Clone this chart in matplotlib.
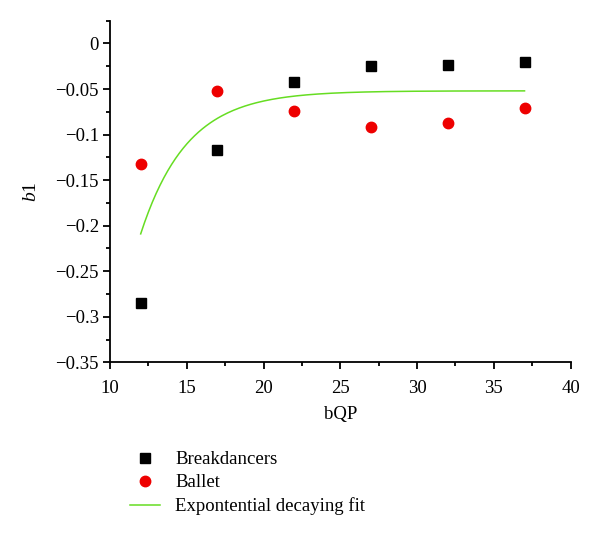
import numpy as np
import matplotlib.pyplot as plt
from matplotlib.ticker import MultipleLocator

plt.rcParams['font.family'] = ['Liberation Serif', 'DejaVu Serif']
plt.rcParams['mathtext.fontset'] = 'custom'
plt.rcParams['mathtext.rm'] = 'Liberation Serif'
plt.rcParams['mathtext.it'] = 'Liberation Serif:italic'

# data
bqp = [12, 17, 22, 27, 32, 37]
breakdancers = [-0.285, -0.117, -0.042, -0.0245, -0.024, -0.020]
ballet = [-0.132, -0.052, -0.074, -0.092, -0.0875, -0.071]

# exponential decaying fit: y = offset + amp * exp(-rate * (x - x0))
fit_offset = -0.052
fit_amp = -0.157
fit_rate = 0.33
fit_x0 = 12

fit_x = np.linspace(12, 37, 200)
fit_y = fit_offset + fit_amp * np.exp(-fit_rate * (fit_x - fit_x0))

fig = plt.figure(figsize=(6, 5.35), dpi=100)
ax = fig.add_axes([0.1833, 0.3228, 0.7677, 0.6385])

ax.plot(bqp, breakdancers, 's', color='black', markersize=6.5, label='Breakdancers')
ax.plot(bqp, ballet, 'o', color='#ee0000', markersize=7.5, label='Ballet')
ax.plot(fit_x, fit_y, '-', color='#66dd22', linewidth=1.1, label='Expontential decaying fit')

ax.set_xlim(10, 40)
ax.set_ylim(-0.35, 0.025)
ax.xaxis.set_major_locator(MultipleLocator(5))
ax.xaxis.set_minor_locator(MultipleLocator(2.5))
ax.yaxis.set_minor_locator(MultipleLocator(0.025))
ax.set_yticks(np.arange(-0.35, 0.001, 0.05))
ax.set_yticklabels(['\u22120.35', '\u22120.3', '\u22120.25', '\u22120.2', '\u22120.15',
                    '\u22120.1', '\u22120.05', '0'])

for s in ['top', 'right']:
    ax.spines[s].set_visible(False)
for s in ['left', 'bottom']:
    ax.spines[s].set_linewidth(1.3)

ax.tick_params(which='major', direction='out', length=5, width=1.3, labelsize=13.5, pad=3)
ax.tick_params(axis='x', which='major', pad=8)
ax.tick_params(which='minor', direction='out', length=3, width=1.3)

ax.set_xlabel('bQP', fontsize=13.5, labelpad=6)
ax.set_ylabel('$b$1', fontsize=14, labelpad=11)

fig.legend(loc='upper left', bbox_to_anchor=(130 / 600, 1 - 451 / 535),
           frameon=False, fontsize=13.5, borderpad=0, handlelength=1.6,
           handletextpad=0.8, labelspacing=0.32, borderaxespad=0)

fig.savefig('out.png', dpi=100)
